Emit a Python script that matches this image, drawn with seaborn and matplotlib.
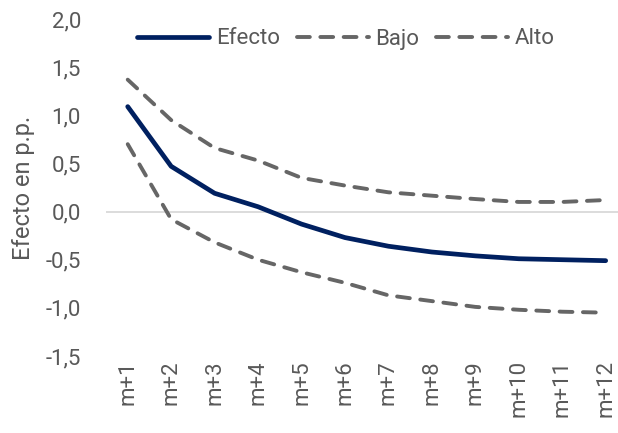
import matplotlib
matplotlib.use("Agg")
import matplotlib.pyplot as plt
import seaborn as sns
import pandas as pd
from matplotlib.ticker import FuncFormatter
from matplotlib.lines import Line2D

# Horizons and estimated effect with its band (percentage points)
horizontes = ["m+1", "m+2", "m+3", "m+4", "m+5", "m+6",
              "m+7", "m+8", "m+9", "m+10", "m+11", "m+12"]
efecto = [1.09, 0.47, 0.19, 0.05, -0.13, -0.27, -0.36, -0.42, -0.46, -0.49, -0.50, -0.51]
bajo = [0.70, -0.08, -0.32, -0.50, -0.63, -0.74, -0.87, -0.93, -0.99, -1.02, -1.04, -1.05]
alto = [1.37, 0.95, 0.66, 0.53, 0.35, 0.27, 0.20, 0.165, 0.13, 0.10, 0.10, 0.12]

series = ["Efecto", "Bajo", "Alto"]
df = pd.DataFrame({
    "horizonte": horizontes * 3,
    "pos": list(range(len(horizontes))) * 3,
    "valor": efecto + bajo + alto,
    "serie": ["Efecto"] * 12 + ["Bajo"] * 12 + ["Alto"] * 12,
})

sns.set_theme(style="white")
plt.rcParams["font.family"] = ["Roboto", "DejaVu Sans"]

fig = plt.figure(figsize=(6.18, 4.33), dpi=100)
W, H = 618, 433
left, right = 106, 618
top, bottom = 19, 356
ax = fig.add_axes([left / W, 1 - bottom / H, (right - left) / W, (bottom - top) / H])

navy = "#002060"
gris = "#666666"
texto = "#595959"
guion = (3.3, 2.7)

sns.lineplot(data=df, x="pos", y="valor", hue="serie", style="serie",
             hue_order=series, style_order=series,
             palette={"Efecto": navy, "Bajo": gris, "Alto": gris},
             dashes={"Efecto": "", "Bajo": guion, "Alto": guion},
             linewidth=2.8, ax=ax, legend=False)

for line in ax.get_lines():
    line.set_solid_capstyle("round")
    line.set_dash_capstyle("round")
    line.set_solid_joinstyle("round")
ax.get_lines()[0].set_linewidth(3.4)

ax.axhline(0, color="#d9d9d9", linewidth=1.3, zorder=0)

span = 43.45
ax.set_xlim(-0.5, -0.5 + (right - left) / span)
ax.set_ylim(-1.5, 2.0)
ax.set_yticks([-1.5, -1.0, -0.5, 0.0, 0.5, 1.0, 1.5, 2.0])
ax.yaxis.set_major_formatter(FuncFormatter(lambda v, p: f"{v:.1f}".replace(".", ",")))
ax.set_xticks(range(len(horizontes)))
ax.set_xticklabels(horizontes, rotation=90)
ax.tick_params(axis="both", length=0, labelsize=16, colors=texto)
ax.tick_params(axis="y", pad=18)
ax.tick_params(axis="x", pad=3)
for s in ax.spines.values():
    s.set_visible(False)
ax.set_xlabel("")
ax.set_ylabel("Efecto en p.p.", fontsize=17, color=texto, labelpad=8)

handles = [
    Line2D([], [], color=navy, lw=3.4, solid_capstyle="round"),
    Line2D([], [], color=gris, lw=2.8, dashes=guion, dash_capstyle="round"),
    Line2D([], [], color=gris, lw=2.8, dashes=guion, dash_capstyle="round"),
]
fig.legend(handles, series, loc="center", bbox_to_anchor=(346 / W, 1 - 39 / H),
           ncol=3, frameon=False, fontsize=16, labelcolor=texto,
           handlelength=3.25, handletextpad=0.3, columnspacing=0.75)

fig.savefig("out.png", dpi=100)
